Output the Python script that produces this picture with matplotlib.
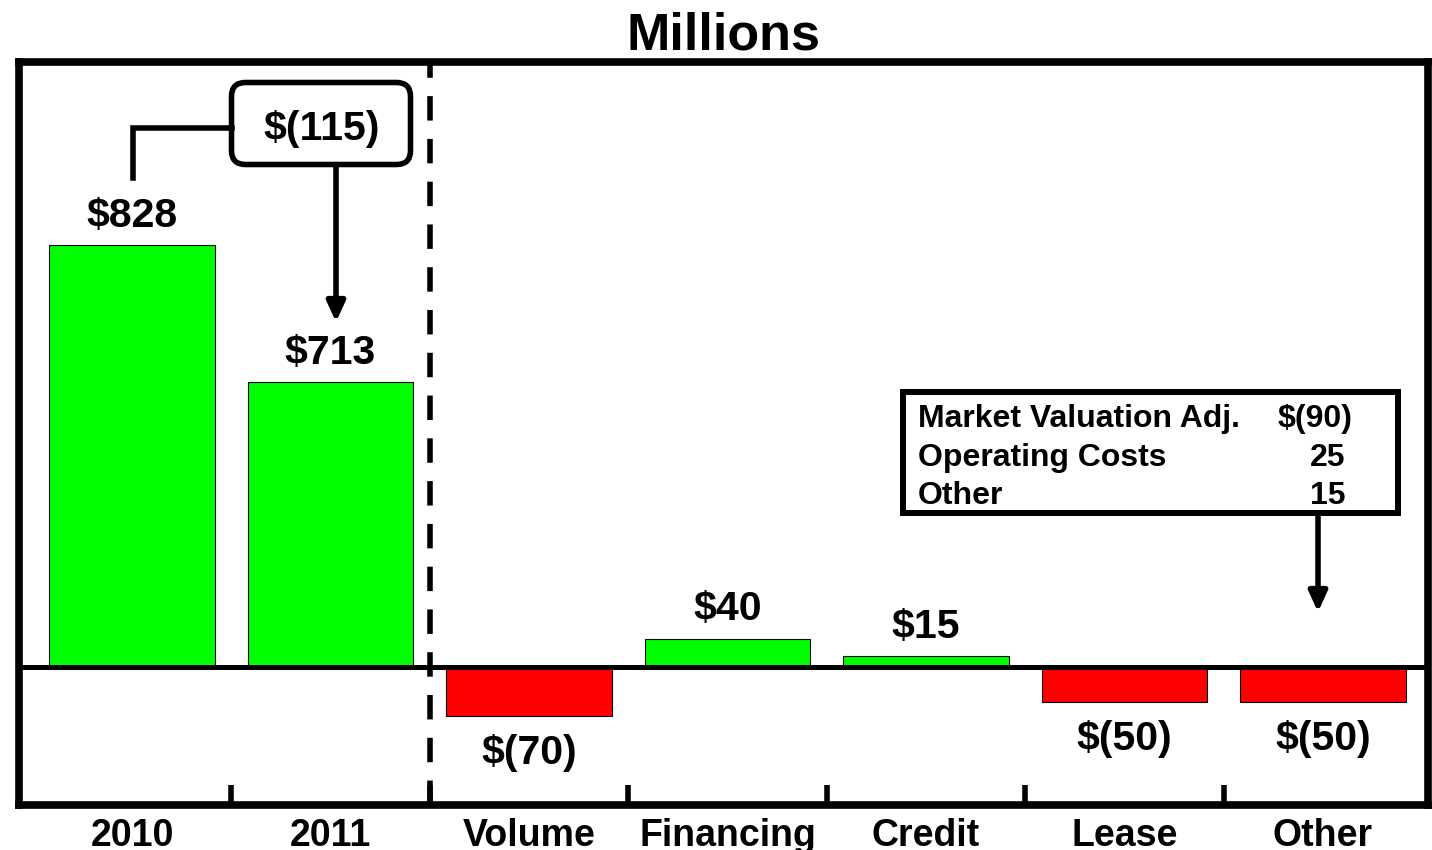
import numpy as np
import matplotlib
matplotlib.use('Agg')
import matplotlib.pyplot as plt
from matplotlib import transforms
from matplotlib.patches import FancyBboxPatch, Rectangle, FancyArrowPatch
from matplotlib.lines import Line2D
from matplotlib.ticker import NullLocator

# ---------------- data ----------------
categories = ['2010', '2011', 'Volume', 'Financing', 'Credit', 'Lease', 'Other']
values = [828, 713, -70, 40, 15, -50, -50]
value_labels = ['$828', '$713', '$(70)', '$40', '$15', '$(50)', '$(50)']
change_label = '$(115)'
detail_names = ['Market Valuation Adj.', 'Operating Costs', 'Other']
detail_values = ['$(90)', '25', '15']
title = 'Millions'

GREEN = '#00FF00'
RED = '#FF0000'
FONT = 'Liberation Sans'

# ---------------- broken-axis (piecewise linear) scale ----------------
_brk_in = np.array([-1e5, -100., 100., 700., 1e5])
_brk_out = np.array([-70000., -70., 70., 269., 269. + 1.191 * (1e5 - 700.)])


def fwd(v):
    return np.interp(v, _brk_in, _brk_out)


def inv(p):
    return np.interp(p, _brk_out, _brk_in)


W, H = 1432, 850
fig = plt.figure(figsize=(W / 100, H / 100), dpi=100)
ax = fig.add_axes([19 / W, 1 - 805 / H, (1428 - 19) / W, (805 - 62) / H])
ax.set_yscale('function', functions=(fwd, inv))
ax.set_ylim(float(inv(-138.5)), float(inv(604.5)))
x = np.arange(len(categories))
ax.set_xlim((19 - 132) / 198.5, (1428 - 132) / 198.5)

colors = [GREEN if v >= 0 else RED for v in values]
ax.bar(x, values, width=0.836, color=colors, edgecolor='black', linewidth=0.8, zorder=2)
ax.axhline(0, color='black', lw=3.6, zorder=3)
ax.axvline(1.5, color='black', lw=4, linestyle=(0, (4.4, 3.3)), zorder=3)

for s in ax.spines.values():
    s.set_linewidth(5.5)
    s.set_zorder(6)

ax.set_xticks(x)
ax.set_xticklabels(categories, fontsize=27, fontweight='bold', family=FONT)
ax.tick_params(axis='x', which='major', length=0, pad=9.4)
ax.set_xticks(np.arange(0.5, len(categories) - 1, 1), minor=True)
ax.tick_params(axis='x', which='minor', direction='in', length=14.5, width=4, color='black')
ax.set_yticks([])
ax.yaxis.set_minor_locator(NullLocator())

for xi, v, lab in zip(x, values, value_labels):
    if v >= 0:
        ax.annotate(lab, (xi, v), xytext=(0, 13), textcoords='offset points',
                    ha='center', va='baseline', fontsize=29.5, fontweight='bold', family=FONT)
    else:
        ax.annotate(lab, (xi, v), xytext=(0, -13), textcoords='offset points',
                    ha='center', va='top', fontsize=29.5, fontweight='bold', family=FONT)

# pixel transform (origin top-left)
px = transforms.Affine2D().scale(1 / W, -1 / H).translate(0, 1) + fig.transFigure

# change box
box = FancyBboxPatch((231.5, 82.5), 179, 82, boxstyle='round,pad=0,rounding_size=14',
                     transform=px, fc='white', ec='black', lw=4, zorder=7, clip_on=False)
fig.add_artist(box)
fig.text(322 / W, 1 - 140 / H, change_label, ha='center', va='baseline', fontsize=29.5,
         fontweight='bold', family=FONT, zorder=8)
fig.add_artist(Line2D([133, 133, 231.5], [178, 128, 128], transform=px, lw=4, color='black',
                      solid_joinstyle='miter', zorder=7))
fig.add_artist(FancyArrowPatch((336, 164.5), (336, 322), transform=px,
                               arrowstyle='-|>,head_length=12,head_width=5.5', mutation_scale=1,
                               lw=4, color='black', shrinkA=0, shrinkB=0, zorder=7))

# detail box
fig.add_artist(Rectangle((902.5, 392.5), 495, 121, transform=px, fc='white', ec='black',
                         lw=4.3, zorder=7))
row_base = [427, 466, 504]
for name, val, yb in zip(detail_names, detail_values, row_base):
    fig.text(918 / W, 1 - yb / H, name, ha='left', va='baseline', fontsize=23,
             fontweight='bold', family=FONT, zorder=8)
    xr = 1353 if val.endswith(')') else 1345
    fig.text(xr / W, 1 - yb / H, val, ha='right', va='baseline', fontsize=23,
             fontweight='bold', family=FONT, zorder=8)
fig.add_artist(FancyArrowPatch((1318, 513.5), (1318, 612), transform=px,
                               arrowstyle='-|>,head_length=12,head_width=5.5', mutation_scale=1,
                               lw=4, color='black', shrinkA=0, shrinkB=0, zorder=7))

fig.text(723.5 / W, 1 - 50 / H, title, ha='center', va='baseline', fontsize=37.5,
         fontweight='bold', family=FONT)

fig.savefig('out.png', dpi=100)
